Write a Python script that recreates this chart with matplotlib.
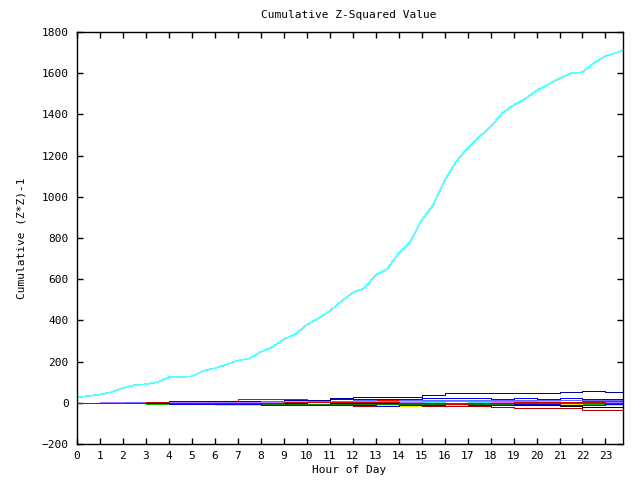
import numpy as np
import matplotlib
matplotlib.use("Agg")
import matplotlib.pyplot as plt

plt.rcParams.update({
    "font.family": "DejaVu Sans Mono",
    "font.size": 8,
    "lines.antialiased": False,
})

# big cyan series, half-hourly
hours_cyan = [0, 0.5, 1, 1.5, 2, 2.5, 3, 3.5, 4, 4.5, 5, 5.5, 6, 6.5, 7, 7.5,
              8, 8.5, 9, 9.5, 10, 10.5, 11, 11.5, 12, 12.5, 13, 13.5, 14, 14.5,
              15, 15.5, 16, 16.5, 17, 17.5, 18, 18.5, 19, 19.5, 20, 20.5, 21,
              21.5, 22, 22.5, 23, 23.5, 23.75]
cyan_vals = [27, 33, 40, 52, 72, 86, 90, 100, 124, 126, 128, 155, 168, 185,
             205, 215, 247, 270, 308, 333, 378, 410, 445, 492, 535, 556, 620,
             650, 726, 780, 887, 960, 1080, 1170, 1237, 1290, 1340, 1405, 1445,
             1475, 1515, 1545, 1575, 1600, 1605, 1650, 1683, 1700, 1710]

# small series, hourly step values
hours = list(range(24))
s_red = [0, 2, 3, 3, 4, 4, 5, 20, 20, 20, 8, 10, 10, 12, 15, 15, 12, 14, 15, 12, 10, 12, 10, 8]
s_green = [0, -2, -3, -4, -3, -5, -5, -4, -6, -6, -5, -8, -10, -12, -12, -10, -8, -10, -8, -6, -5, -4, -8, -5]
s_blue = [0, 5, 5, 6, 7, 8, 10, 10, 10, 15, 15, 18, 20, 18, 20, 22, 22, 22, 20, 22, 20, 22, 18, 20]
s_magenta = [0, -3, 0, 2, 4, -2, -8, -2, 5, 8, 5, 3, 2, 5, 8, 10, 12, 10, 5, 3, 8, 5, 2, 0]
s_cyan2 = [0, 2, 3, 5, 2, 0, 3, 5, 3, 8, 5, 6, 8, 10, 8, 5, 7, 5, 10, 8, 10, 5, 3, 2]
s_yellow = [0, -1, -2, -3, -4, -8, -10, -12, -10, -8, -7, -10, -12, -12, -15, -14, -12, -10, -12, -10, -12, -8, -10, -12]
s_black = [0, 1, 1, 0, -1, 0, 1, 0, -2, -3, -4, -3, -2, 0, -3, -5, -5, -7, -8, -10, -12, -15, -18, -20]
s_darkred = [0, 0, -1, -2, -2, -4, -3, -5, -6, -8, -10, -12, -15, -14, -13, -15, -16, -17, -18, -25, -27, -27, -33, -36]
s_darkblue = [0, 3, 4, 5, 6, 8, 9, 10, 11, 12, 15, 25, 30, 28, 30, 40, 48, 50, 50, 46, 46, 52, 56, 51]
s_lightblue = [0, 3, 4, 5, 3, 4, 5, 6, 8, 6, 8, 10, 12, 10, 12, 15, 15, 14, 16, 15, 12, 13, 14, 12]
s_violet = [0, 2, 1, 3, 4, 3, 2, 4, 6, 5, 4, 6, 8, 7, 6, 8, 10, 9, 8, 7, 6, 4, 5, 3]
s_darkgreen = [0, -2, -3, -3, -4, -4, -5, -6, -5, -6, -4, -5, -6, -8, -6, -4, -2, -4, -5, -3, -2, 0, -3, -6]
s_blue2 = [0, -1, -2, -3, -4, -5, -6, -8, -10, -12, -11, -10, -12, -14, -12, -10, -8, -12, -10, -6, -8, -10, -12, -8]
s_red2 = [0, 0, 1, 2, -1, -3, -2, -1, 0, 2, 3, 5, 4, 2, 0, -2, -4, -2, 0, 3, 5, 6, 2, -3]

small = [
    (s_red, "#ff0000"), (s_green, "#00c000"), (s_blue, "#0000ff"),
    (s_magenta, "#ff50ff"), (s_cyan2, "#40e0ff"), (s_yellow, "#f0f000"),
    (s_black, "#000000"), (s_darkred, "#b00000"), (s_darkblue, "#0000a0"),
    (s_lightblue, "#6070ff"), (s_violet, "#b070ff"), (s_darkgreen, "#008000"),
    (s_blue2, "#0000e0"), (s_red2, "#d00000"),
]

fig = plt.figure(figsize=(6.4, 4.8), dpi=100)
ax = fig.add_axes([77 / 640, 36 / 480, 545.7 / 640, 412 / 480])

x_step = hours + [23.75]
for vals, col in small:
    ax.plot(x_step, vals + [vals[-1]], drawstyle="steps-post", color=col, lw=0.5)

ax.plot(hours_cyan, cyan_vals, color="#55ffff", lw=0.5)

ax.set_xlim(0, 23.75)
ax.set_ylim(-200, 1800)
ax.set_xticks(range(24))
ax.set_yticks(range(-200, 1801, 200))
ax.tick_params(direction="in", length=4.5, width=1, top=True, right=True,
               labelsize=8)
ax.tick_params(axis="x", pad=5)
ax.tick_params(axis="y", pad=6)
for sp in ax.spines.values():
    sp.set_linewidth(1.0)

fig.text(349 / 640, 1 - 15 / 480, "Cumulative Z-Squared Value", ha="center", va="center")
fig.text(349 / 640, 10 / 480, "Hour of Day", ha="center", va="center")
fig.text(22 / 640, 1 - 238 / 480, "Cumulative (Z*Z)-1", ha="center", va="center", rotation=90)

fig.savefig("out.png", dpi=100)
